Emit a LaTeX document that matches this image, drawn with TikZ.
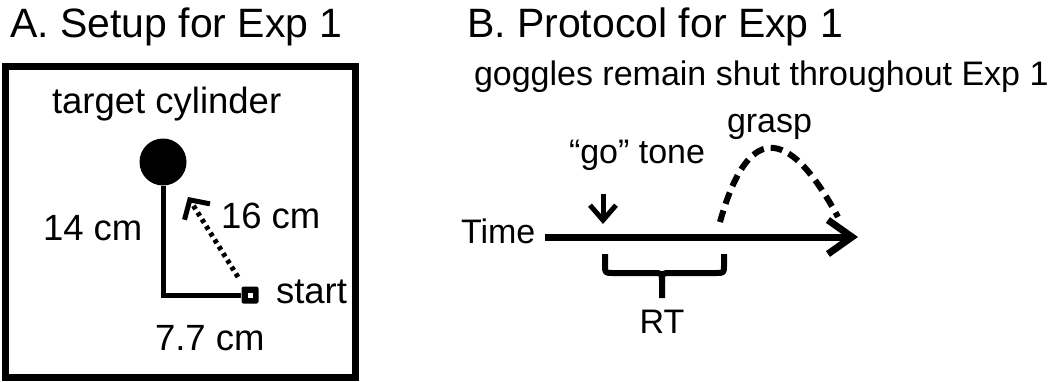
\documentclass[tikz,border=0pt]{standalone}
\usepackage{fontspec}
\setmainfont{Liberation Sans}
\usetikzlibrary{arrows.meta}
\newcommand{\myfs}[1]{\fontsize{#1bp}{#1bp}\selectfont}
\tikzset{
  lbl/.style={inner sep=0pt, outer sep=0pt, anchor=base west},
  ttl/.style={lbl, font=\myfs{41}},
  bodyA/.style={lbl, font=\myfs{36.5}},
  bodyB/.style={lbl, font=\myfs{34}},
}
\begin{document}
\begin{tikzpicture}[x=1bp,y=-1bp]
\useasboundingbox (0,0) rectangle (1056,381);
% ---------- Panel A ----------
\node[ttl] (ta) at (10,37) {A. Setup for Exp 1};
\draw[line width=7bp] (5.5,66) rectangle (355,377.5);
\node[bodyA] (tc) at (52,113) {target cylinder};
\node[circle, fill=black, inner sep=0pt, minimum size=47bp] (target) at (163,162) {};
\node[rectangle, fill=black, rounded corners=2bp, inner sep=0pt, minimum size=17bp] (start) at (250,295) {};
\fill[white] ([xshift=-2.5bp,yshift=-2.5bp]start.center) rectangle ([xshift=2.5bp,yshift=2.5bp]start.center);
\coordinate (corner) at (163,295);
\draw[line width=5bp, line join=miter] (target.south) -- (corner) -- (start.west);
\coordinate (dstart) at (238,277);
\coordinate (dend) at (188,197);
\draw[line width=5bp, dash pattern=on 4bp off 4bp, -{Straight Barb[length=14bp,width=30bp]}] (dstart) -- (dend);
\node[bodyA] (l14) at (43,240) {14 cm};
\node[bodyA] (l16) at (221,228) {16 cm};
\node[bodyA] (lstart) at (276,303) {start};
\node[bodyA] (l77) at (155,350) {7.7 cm};
% ---------- Panel B ----------
\node[ttl] (tb) at (467,37) {B. Protocol for Exp 1};
\node[bodyB] (gog) at (474,85) {goggles remain shut throughout Exp 1};
\node[bodyB] (go) at (569,163) {“go” tone};
\node[bodyB] (grasp) at (727,132) {grasp};
\node[bodyB] (time) at (461,243) {Time};
\coordinate (tl) at (545,237);
\coordinate (tr) at (858,237);
\draw[line width=7bp, -{Straight Barb[length=24bp,width=34bp]}] (tl) -- (tr);
\coordinate (gotop) at (603,194);
\coordinate (gotip) at (603,224);
\draw[line width=5bp, -{Straight Barb[length=15bp,width=26bp]}] (gotop) -- (gotip);
\coordinate (g0) at (720,222);
\coordinate (g1) at (838,217);
\draw[line width=6bp, dash pattern=on 12bp off 7bp] (g0) .. controls (747,125) and (787,123) .. (g1);
\draw[line width=6bp, line join=round] (605,254) -- (605,265) .. controls (605,273) .. (613,273) -- (653,273) .. controls (662,273) .. (662,281) -- (662,298);
\draw[line width=6bp, line join=round] (724,254) -- (724,265) .. controls (724,273) .. (716,273) -- (671,273) .. controls (662,273) .. (662,281);
\node[lbl, anchor=base, font=\myfs{34}] (rt) at (662,333) {RT};
\end{tikzpicture}
\end{document}
